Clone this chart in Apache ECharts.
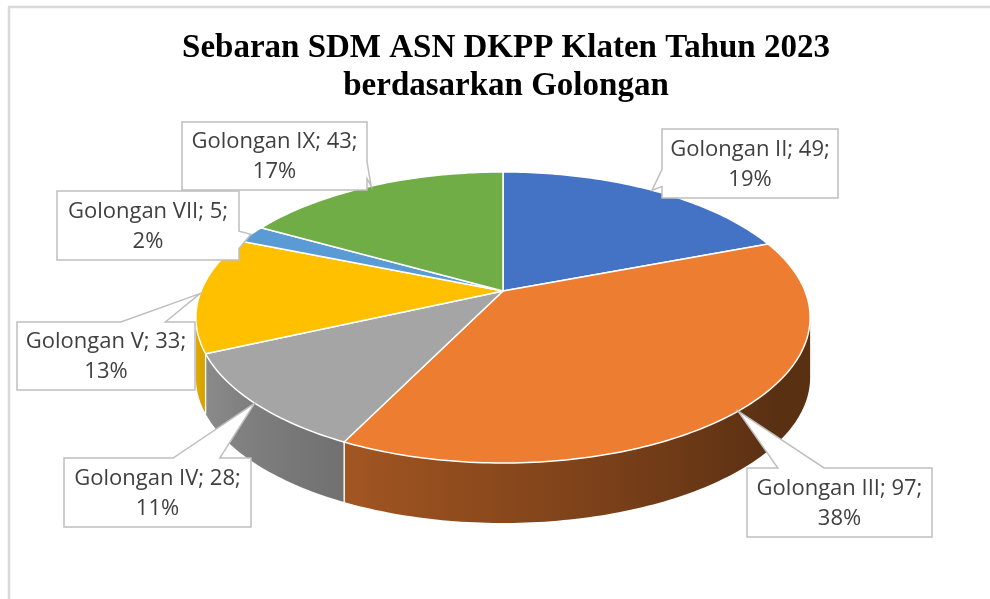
<!DOCTYPE html>
<html>
<head>
<meta charset="utf-8">
<script src="https://cdn.jsdelivr.net/npm/echarts@6/dist/echarts.min.js"></script>
<style>
  html, body { margin: 0; padding: 0; background: #fff; }
  #main { width: 990px; height: 599px; }
</style>
</head>
<body>
<div id="main"></div>
<script>
const categories = ['Golongan II', 'Golongan III', 'Golongan IV', 'Golongan V', 'Golongan VII', 'Golongan IX'];
const values = [49, 97, 28, 33, 5, 43];
const colors = ['#4472C4', '#ED7D31', '#A5A5A5', '#FFC000', '#5B9BD5', '#70AD47'];

// callout boxes: left, top, width, height
const boxes = [
  [662, 129, 176, 69],
  [747, 468, 185, 69],
  [64, 458, 187, 69],
  [17, 322, 178, 68],
  [57, 191, 182, 69],
  [182, 122, 185, 68]
];

// tilted disc with a bit of perspective, like the excel 3d pie
const CX = 503, CY = 291, R = 302, C = 140.7, K = 0.182, DEPTH = 60;
const VIS0 = Math.acos(-K) * 180 / Math.PI, VIS1 = 360 - VIS0;

const total = values.reduce((a, b) => a + b, 0);
const starts = [], ends = [];
let acc = 0;
values.forEach(v => { starts.push(acc / total * 360); acc += v; ends.push(acc / total * 360); });

function rim(phi, drop) {
  const a = phi * Math.PI / 180;
  const u = Math.sin(a), v = -Math.cos(a);
  const s = 1 / (1 - K * v);
  return [CX + R * u * s, CY + C * v * s + (drop || 0)];
}

function arc(a, b, drop) {
  const pts = [];
  for (let p = a; ; p += 1) {
    const q = Math.min(p, b);
    pts.push(rim(q, drop));
    if (q >= b) break;
  }
  return pts;
}

function shade(hex, phi) {
  const t = Math.max(0, Math.min(1, (phi - 130) / 130));
  const f = 0.38 + 0.52 * t;
  const n = parseInt(hex.slice(1), 16);
  const r = Math.round(((n >> 16) & 255) * f), g = Math.round(((n >> 8) & 255) * f), b = Math.round((n & 255) * f);
  return 'rgb(' + r + ',' + g + ',' + b + ')';
}

function renderSide(params, api) {
  const i = params.dataIndex;
  const a = Math.max(starts[i], VIS0), b = Math.min(ends[i], VIS1);
  if (b <= a) return { type: 'group', children: [] };
  const top = arc(a, b, 0), bot = arc(a, b, DEPTH);
  const pts = top.concat(bot.slice().reverse());
  const xs = top.map(p => p[0]);
  const xmin = Math.min.apply(null, xs), xmax = Math.max.apply(null, xs);
  const stops = [];
  for (let k = 0; k <= 8; k++) {
    const p = a + (b - a) * k / 8;
    stops.push({ offset: (rim(p)[0] - xmin) / (xmax - xmin || 1), color: shade(colors[i], p) });
  }
  stops.sort((s, t) => s.offset - t.offset);
  const children = [{
    type: 'polygon',
    shape: { points: pts },
    style: { fill: { type: 'linear', x: xmin, y: 0, x2: xmax, y2: 0, colorStops: stops, global: true } }
  }];
  [starts[i], ends[i]].forEach(p => {
    if (p > VIS0 && p < VIS1) {
      const p1 = rim(p), p2 = rim(p, DEPTH);
      children.push({ type: 'line', shape: { x1: p1[0], y1: p1[1], x2: p2[0], y2: p2[1] }, style: { stroke: '#fff', lineWidth: 1.2 } });
    }
  });
  return { type: 'group', children: children };
}

function renderTop(params, api) {
  const i = params.dataIndex;
  const pts = [[CX, CY]].concat(arc(starts[i], ends[i], 0));
  return {
    type: 'polygon',
    shape: { points: pts },
    style: { fill: colors[i], stroke: '#fff', lineWidth: 1.5, lineJoin: 'round' }
  };
}

function calloutPoints(x, y, w, h, tip) {
  const dx = (tip[0] - (x + w / 2)) / w, dy = (tip[1] - (y + h / 2)) / h;
  const vert = Math.abs(dy) >= Math.abs(dx);
  const fx = dx < 0 ? [1 / 6, 5 / 12] : [7 / 12, 5 / 6];
  const fy = dy < 0 ? [1 / 6, 5 / 12] : [7 / 12, 5 / 6];
  const pts = [[x, y]];
  if (vert && dy < 0) pts.push([x + w * fx[0], y], tip, [x + w * fx[1], y]);
  pts.push([x + w, y]);
  if (!vert && dx > 0) pts.push([x + w, y + h * fy[0]], tip, [x + w, y + h * fy[1]]);
  pts.push([x + w, y + h]);
  if (vert && dy > 0) pts.push([x + w * fx[1], y + h], tip, [x + w * fx[0], y + h]);
  pts.push([x, y + h]);
  if (!vert && dx < 0) pts.push([x, y + h * fy[1]], tip, [x, y + h * fy[0]]);
  return pts;
}

function renderLabel(params, api) {
  const i = params.dataIndex;
  const bx = boxes[i];
  const tip = rim((starts[i] + ends[i]) / 2);
  const pct = Math.round(values[i] / total * 100);
  return {
    type: 'group',
    children: [{
      type: 'polygon',
      shape: { points: calloutPoints(bx[0], bx[1], bx[2], bx[3], tip) },
      style: { fill: '#fff', stroke: '#BFBFBF', lineWidth: 1.5 }
    }, {
      type: 'text',
      style: {
        text: categories[i] + '; ' + values[i] + ';\n' + pct + '%',
        x: bx[0] + bx[2] / 2, y: bx[1] + bx[3] / 2 + 1,
        textAlign: 'center', textVerticalAlign: 'middle',
        fontFamily: 'Open Sans', fontSize: 22, lineHeight: 30,
        fill: '#404040'
      }
    }]
  };
}

const chart = echarts.init(document.getElementById('main'));
chart.setOption({
  animation: false,
  graphic: [
    { type: 'line', shape: { x1: 8, y1: 7, x2: 990, y2: 7 }, style: { stroke: '#D9D9D9', lineWidth: 2.5 } },
    { type: 'line', shape: { x1: 9, y1: 7, x2: 9, y2: 599 }, style: { stroke: '#D9D9D9', lineWidth: 2.5 } },
    {
      type: 'text', x: 506, y: 67,
      style: {
        text: 'Sebaran SDM ASN DKPP Klaten Tahun 2023\nberdasarkan Golongan',
        textAlign: 'center', textVerticalAlign: 'middle',
        fontFamily: 'Liberation Serif', fontWeight: 'bold', fontSize: 33, lineHeight: 38,
        fill: '#000'
      }
    }
  ],
  series: [
    { type: 'custom', coordinateSystem: 'none', z: 2, renderItem: renderSide, data: values },
    { type: 'custom', coordinateSystem: 'none', z: 3, renderItem: renderTop, data: values },
    { type: 'custom', coordinateSystem: 'none', z: 4, renderItem: renderLabel, data: values }
  ]
});
</script>
</body>
</html>
